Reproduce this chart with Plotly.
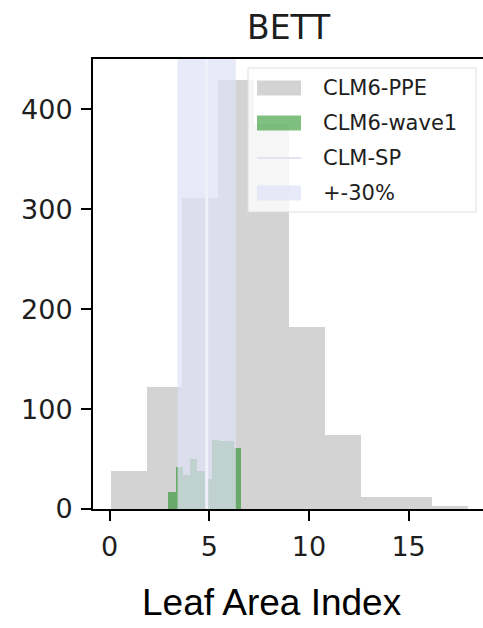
import numpy as np
import plotly.graph_objects as go

# ---- data -------------------------------------------------------------
# CLM6-PPE ensemble histogram (bin edges + counts)
ppe_edges = [0.06, 1.85, 3.64, 5.43, 7.22, 9.01, 10.80, 12.59, 14.38, 16.17, 17.96]
ppe_counts = [38, 122, 311, 429, 385, 182, 74, 12, 12, 3]

# CLM6-wave1 histogram
wave1_edges = [2.95, 3.314, 3.678, 4.042, 4.406, 4.77, 5.134, 5.498, 5.862, 6.226, 6.59]
wave1_counts = [17, 42, 34, 50, 38, 30, 69, 68, 68, 61]

# CLM-SP reference value and its +-30% band
clm_sp = 4.87
band_frac = 0.30

title_text = "BETT"
xlabel_text = "Leaf Area Index"
x_ticks = [0, 5, 10, 15]
y_ticks = [0, 100, 200, 300, 400]
legend_labels = ["CLM6-PPE", "CLM6-wave1", "CLM-SP", "+-30%"]

# ---- styling ----------------------------------------------------------
PPE_COLOR = "rgb(211,211,211)"
WAVE1_COLOR = "rgba(0,128,0,0.5)"
SPAN_COLOR = "rgba(224,226,247,0.72)"
SP_LINE_COLOR = "rgb(240,240,251)"
TXT = "#1e1e1e"
DV = "DejaVu Sans"

W, H = 483, 628
L, T, B = 93, 59, 119
PW = W - L
PH = H - T - B

ppe_e = np.array(ppe_edges)
wv_e = np.array(wave1_edges)

fig = go.Figure()
fig.add_trace(go.Bar(
    x=(ppe_e[:-1] + ppe_e[1:]) / 2, y=ppe_counts, width=np.diff(ppe_e),
    marker=dict(color=PPE_COLOR, line=dict(width=0)), showlegend=False,
    name=legend_labels[0]))
fig.add_trace(go.Bar(
    x=(wv_e[:-1] + wv_e[1:]) / 2, y=wave1_counts, width=np.diff(wv_e),
    marker=dict(color=WAVE1_COLOR, line=dict(width=0)), showlegend=False,
    name=legend_labels[1]))

# +-30% band and CLM-SP line drawn over the histograms
fig.add_vrect(x0=clm_sp * (1 - band_frac), x1=clm_sp * (1 + band_frac),
              fillcolor=SPAN_COLOR, line_width=0, layer="above")
fig.add_vline(x=clm_sp, line=dict(color=SP_LINE_COLOR, width=3), layer="above")

y_max = max(ppe_counts) * 1.05
x_min = -0.835
x_scale = 19.93  # px per unit
x_max = x_min + PW / x_scale

axis_common = dict(
    showgrid=False, zeroline=False, showline=True, linecolor="black",
    linewidth=2, ticks="outside", ticklen=10, tickwidth=2, tickcolor="black",
    tickfont=dict(family=DV, size=27, color=TXT),
)
fig.update_xaxes(range=[x_min, x_max], tickvals=x_ticks, mirror=True,
                 ticklabelstandoff=3, **axis_common)
fig.update_yaxes(range=[0, y_max], tickvals=y_ticks, mirror=False,
                 ticklabelstandoff=3, **axis_common)

# ---- custom legend ------------------------------------------------------
def px_x(p):
    return (p - L) / PW

def px_y(p):
    return 1 - (p - T) / PH

shapes = []
annotations = []
# legend frame
shapes.append(dict(type="rect", xref="paper", yref="paper",
                   x0=px_x(248), x1=px_x(476), y0=px_y(212), y1=px_y(68),
                   fillcolor="rgba(255,255,255,0.8)",
                   line=dict(color="rgb(222,222,222)", width=1), layer="above"))
rows = [88, 123, 158, 193]
patch_x0, patch_x1 = 257, 301
for i, yc in enumerate(rows):
    if i == 2:
        shapes.append(dict(type="line", xref="paper", yref="paper",
                           x0=px_x(patch_x0), x1=px_x(patch_x1),
                           y0=px_y(yc), y1=px_y(yc),
                           line=dict(color="rgb(226,226,242)", width=2), layer="above"))
    else:
        fill = {0: PPE_COLOR, 1: WAVE1_COLOR, 3: SPAN_COLOR}[i]
        shapes.append(dict(type="rect", xref="paper", yref="paper",
                           x0=px_x(patch_x0), x1=px_x(patch_x1),
                           y0=px_y(yc + 7.5), y1=px_y(yc - 7.5),
                           fillcolor=fill, line_width=0, layer="above"))
    annotations.append(dict(text=legend_labels[i], xref="paper", yref="paper",
                            x=px_x(321), y=px_y(yc), xanchor="left", yanchor="middle",
                            showarrow=False, font=dict(family=DV, size=21, color=TXT)))

# title and axis label
annotations.append(dict(text=title_text, xref="paper", yref="paper",
                        x=px_x(289), y=px_y(28), xanchor="center", yanchor="middle",
                        showarrow=False, font=dict(family=DV, size=33, color=TXT)))
annotations.append(dict(text=xlabel_text, xref="paper", yref="paper",
                        x=px_x(271.5), y=px_y(602), xanchor="center", yanchor="middle",
                        showarrow=False, borderpad=0,
                        font=dict(family="Liberation Sans", size=37, color="black")))

fig.update_layout(
    width=W, height=H,
    margin=dict(l=L, r=0, t=T, b=B, pad=0),
    paper_bgcolor="white", plot_bgcolor="white",
    barmode="overlay", bargap=0,
    shapes=list(fig.layout.shapes) + shapes,
    annotations=annotations,
    showlegend=False,
)

fig.write_html("out.html")
